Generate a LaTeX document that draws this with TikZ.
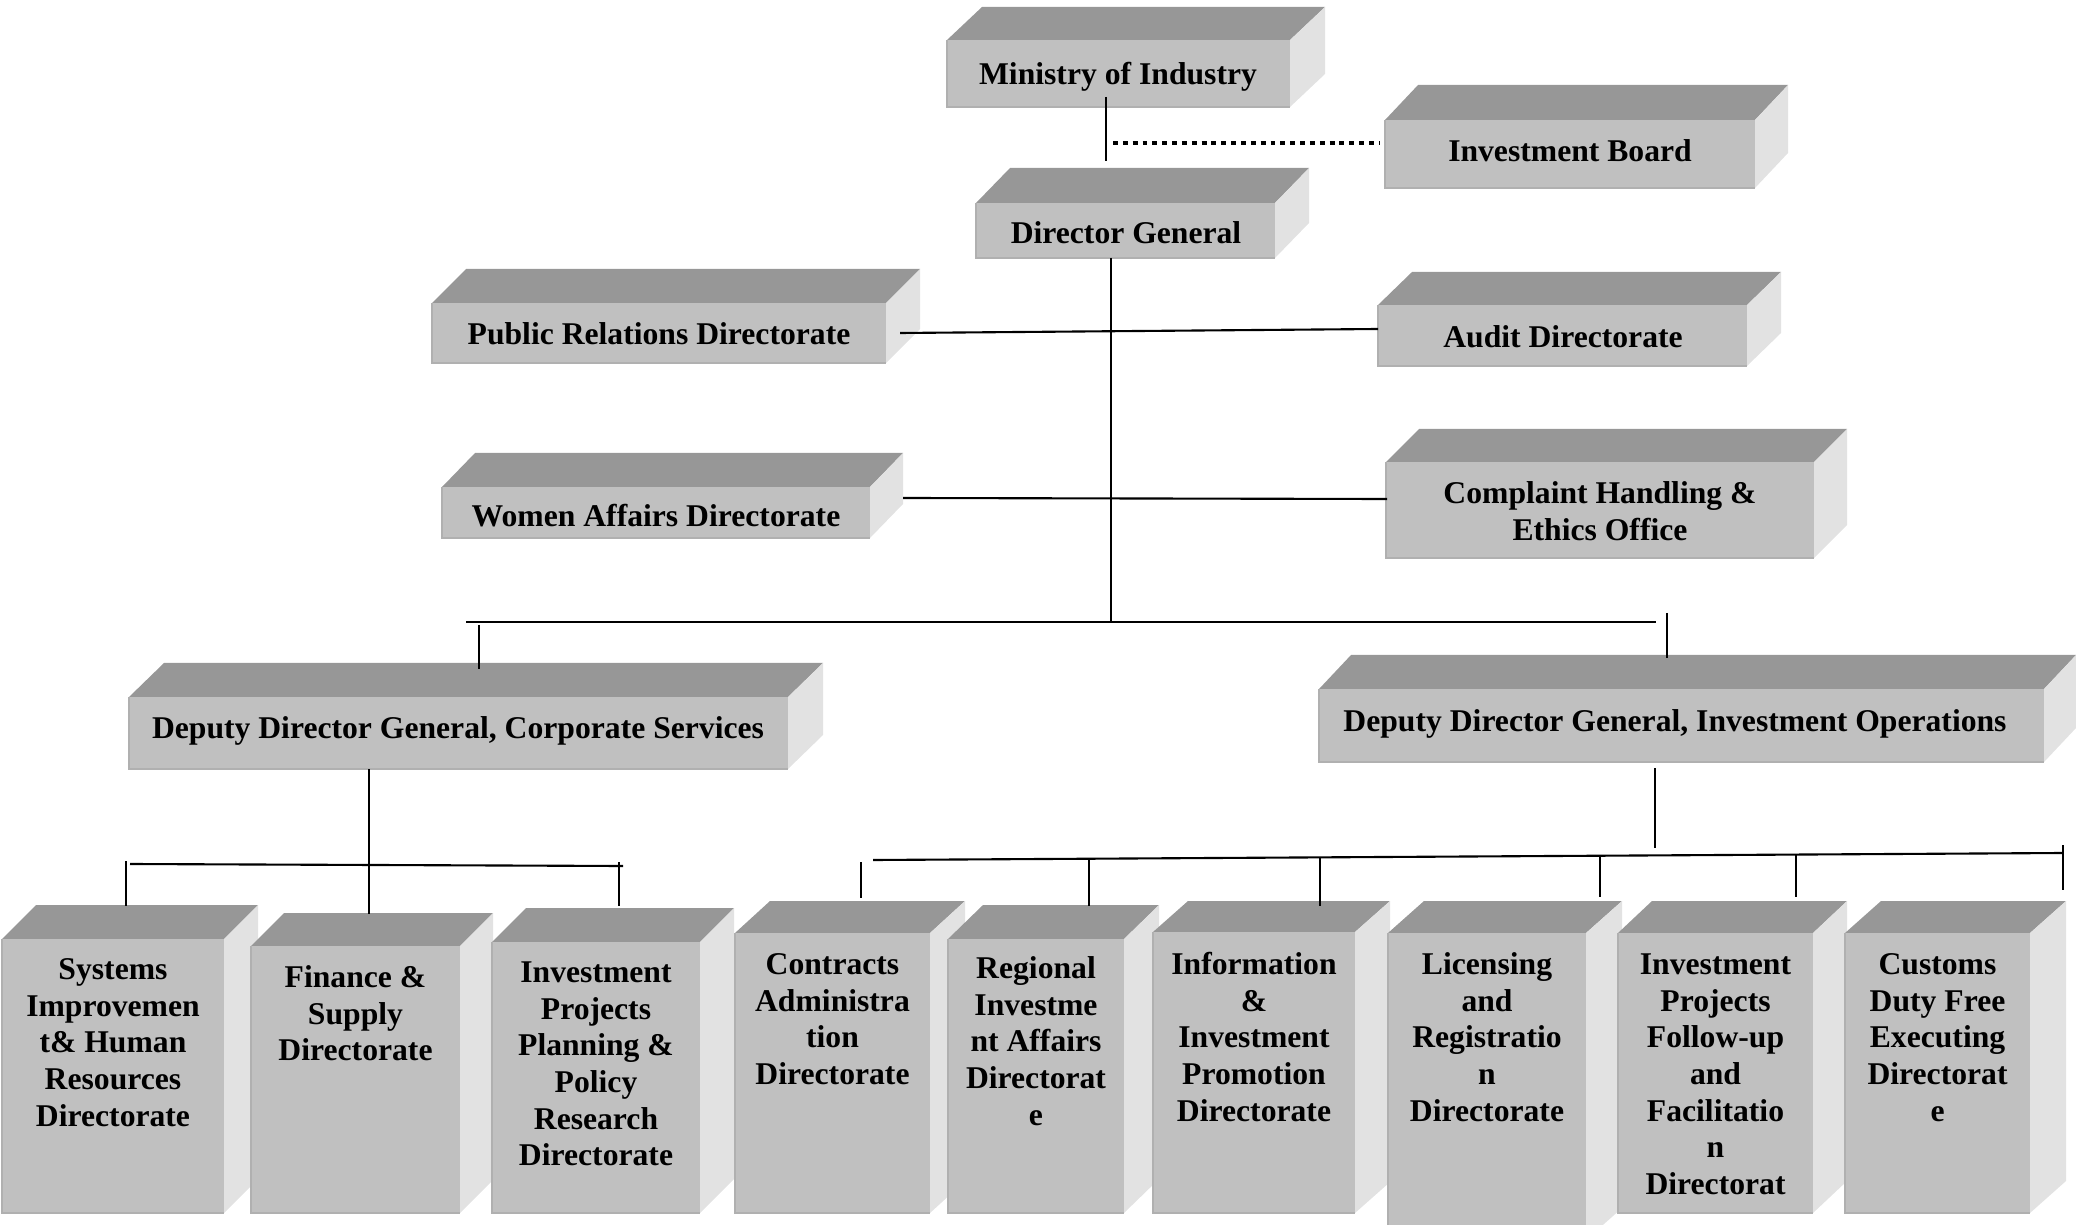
\documentclass[tikz,border=0pt]{standalone}
\usepackage{fontspec}
\setmainfont{Liberation Serif}
\usetikzlibrary{calc}
\definecolor{topc}{HTML}{979797}
\definecolor{frontc}{HTML}{C0C0C0}
\definecolor{sidec}{HTML}{E2E2E2}
\definecolor{edgec}{HTML}{B0B0B0}
\tikzset{
  topface/.style={fill=topc},
  sideface/.style={fill=sidec},
  frontface/.style={fill=frontc, draw=none, inner sep=0pt, outer sep=0pt},
  frontedge/.style={draw=edgec, line width=0.5pt},
  lbl/.style={font=\fontsize{9}{10.4}\selectfont\bfseries, align=center, inner sep=0pt},
  conn/.style={line width=0.6pt, black},
  dotconn/.style={line width=1.2pt, black, dash pattern=on 1.4pt off 1.4pt},
}
\newcommand\cubebox[7]{%
  \fill[topface] (#2,#3) -- (#2+#6,#3-#7) -- (#4+#6,#3-#7) -- (#4,#3) -- cycle;
  \fill[sideface] (#4,#3) -- (#4+#6,#3-#7) -- (#4+#6,#5-#7) -- (#4,#5) -- cycle;
  \node[frontface, minimum width={(#4-#2)*0.284528pt}, minimum height={(#5-#3)*0.284528pt}] (#1) at ({(#2+#4)/2},{(#3+#5)/2}) {};
  \draw[frontedge] (#1.north west) -- (#1.south west) -- (#1.south east);
}
\begin{document}
\begin{tikzpicture}[x=0.01cm,y=-0.01cm]
\useasboundingbox (0,0) rectangle (2076,1225);
\clip (0,0) rectangle (2076,1225);

% upper boxes
\cubebox{ministry}{947}{40}{1290}{107}{35}{33}
\cubebox{dg}{976}{203}{1275}{258}{34}{35}
\cubebox{ib}{1385}{120}{1755}{188}{33}{35}
\cubebox{pr}{432}{303}{886}{363}{34}{34}
\cubebox{wa}{442}{487}{870}{538}{33}{34}
\cubebox{audit}{1378}{305}{1747}{366}{34}{33}
\cubebox{chef}{1386}{462}{1814}{558}{33}{33}
\cubebox{ddgcs}{129}{697}{788}{769}{35}{34}
\cubebox{ddgio}{1319}{689}{2044}{762}{32}{34}

% bottom boxes
\cubebox{bA}{2}{939}{224}{1213}{34}{34}
\cubebox{bB}{251}{946}{460}{1213}{33}{33}
\cubebox{bC}{492}{942}{700}{1213}{34}{34}
\cubebox{bD}{735}{933}{930}{1213}{35}{32}
\cubebox{bE}{948}{939}{1124}{1213}{35}{34}
\cubebox{bF}{1153}{932}{1355}{1213}{35}{31}
\cubebox{bG}{1388}{933}{1586}{1240}{36}{32}
\cubebox{bH}{1618}{933}{1813}{1213}{34}{32}
\cubebox{bI}{1845}{933}{2030}{1213}{36}{32}

% labels
\node[lbl, anchor=base] (ministry-t) at (1118,84.5) {Ministry of Industry};
\node[lbl, anchor=base] (dg-t) at (1126,243.5) {Director General};
\node[lbl, anchor=base] (ib-t) at (1570,161.5) {Investment Board};
\node[lbl, anchor=base] (pr-t) at (659,344.5) {Public Relations Directorate};
\node[lbl, anchor=base] (wa-t) at (656,526.5) {Women Affairs Directorate};
\node[lbl, anchor=base] (audit-t) at (1563,348) {Audit Directorate};
\node[lbl, anchor=north] (chef-t) at (1600,477.4) {\strut Complaint Handling \&\\Ethics Office};
\node[lbl, anchor=base] (ddgcs-t) at (458,738.5) {Deputy Director General, Corporate Services};
\node[lbl, anchor=base] (ddgio-t) at (1675,731.5) {Deputy Director General, Investment Operations};

\node[lbl, anchor=north] (bA-t) at (113,953.4) {\strut Systems\\Improvemen\\t\& Human\\Resources\\Directorate};
\node[lbl, anchor=north] (bB-t) at (355.5,961.4) {\strut Finance \&\\Supply\\Directorate};
\node[lbl, anchor=north] (bC-t) at (596,956.4) {\strut Investment\\Projects\\Planning \&\\Policy\\Research\\Directorate};
\node[lbl, anchor=north] (bD-t) at (832.5,948.4) {\strut Contracts\\Administra\\tion\\Directorate};
\node[lbl, anchor=north] (bE-t) at (1036,952.4) {\strut Regional\\Investme\\nt Affairs\\Directorat\\e};
\node[lbl, anchor=north] (bF-t) at (1254,948.4) {\strut Information\\\&\\Investment\\Promotion\\Directorate};
\node[lbl, anchor=north] (bG-t) at (1487,948.4) {\strut Licensing\\and\\Registratio\\n\\Directorate};
\node[lbl, anchor=north] (bH-t) at (1715.5,948.4) {\strut Investment\\Projects\\Follow-up\\and\\Facilitatio\\n\\Directorat};
\node[lbl, anchor=north] (bI-t) at (1937.5,948.4) {\strut Customs\\Duty Free\\Executing\\Directorat\\e};

% connector end points
\coordinate (m1) at (1106,97);
\coordinate (m2) at (1106,161);
\coordinate (d1) at (1113,143);
\coordinate (d2) at (1380,143);
\coordinate (t1) at (1111,258);
\coordinate (t2) at (1111,622);
\coordinate (bus1) at (466,622);
\coordinate (bus2) at (1656,622);
\coordinate (l1) at (479,625);
\coordinate (l2) at (479,669);
\coordinate (r1) at (1667,613);
\coordinate (r2) at (1667,658);
\coordinate (p1) at (900,333);
\coordinate (p2) at (1378,329);
\coordinate (w1) at (903,498);
\coordinate (w2) at (1387,499);
\coordinate (cs1) at (369,769);
\coordinate (cs2) at (369,914);
\coordinate (lb1) at (130,864);
\coordinate (lb2) at (623,866);
\coordinate (lt1a) at (126,861);
\coordinate (lt1b) at (126,906);
\coordinate (lt2a) at (619,862);
\coordinate (lt2b) at (619,906);
\coordinate (io1) at (1655,768);
\coordinate (io2) at (1655,848);
\coordinate (rb1) at (873,860);
\coordinate (rb2) at (2063,853);
\coordinate (rd1a) at (861,862);
\coordinate (rd1b) at (861,898);
\coordinate (rd2a) at (1089,858.7);
\coordinate (rd2b) at (1089,906);
\coordinate (rd3a) at (1320,857.4);
\coordinate (rd3b) at (1320,906);
\coordinate (rd4a) at (1600,855.7);
\coordinate (rd4b) at (1600,897);
\coordinate (rd5a) at (1796,854.6);
\coordinate (rd5b) at (1796,897);
\coordinate (rd6a) at (2063,845);
\coordinate (rd6b) at (2063,890);

% connectors
\draw[conn] (m1) -- (m2);
\draw[dotconn] (d1) -- (d2);
\draw[conn] (t1) -- (t2);
\draw[conn] (bus1) -- (bus2);
\draw[conn] (l1) -- (l2);
\draw[conn] (r1) -- (r2);
\draw[conn] (p1) -- (p2);
\draw[conn] (w1) -- (w2);
\draw[conn] (cs1) -- (cs2);
\draw[conn] (lb1) -- (lb2);
\draw[conn] (lt1a) -- (lt1b);
\draw[conn] (lt2a) -- (lt2b);
\draw[conn] (io1) -- (io2);
\draw[conn] (rb1) -- (rb2);
\draw[conn] (rd1a) -- (rd1b);
\draw[conn] (rd2a) -- (rd2b);
\draw[conn] (rd3a) -- (rd3b);
\draw[conn] (rd4a) -- (rd4b);
\draw[conn] (rd5a) -- (rd5b);
\draw[conn] (rd6a) -- (rd6b);
\end{tikzpicture}
\end{document}
